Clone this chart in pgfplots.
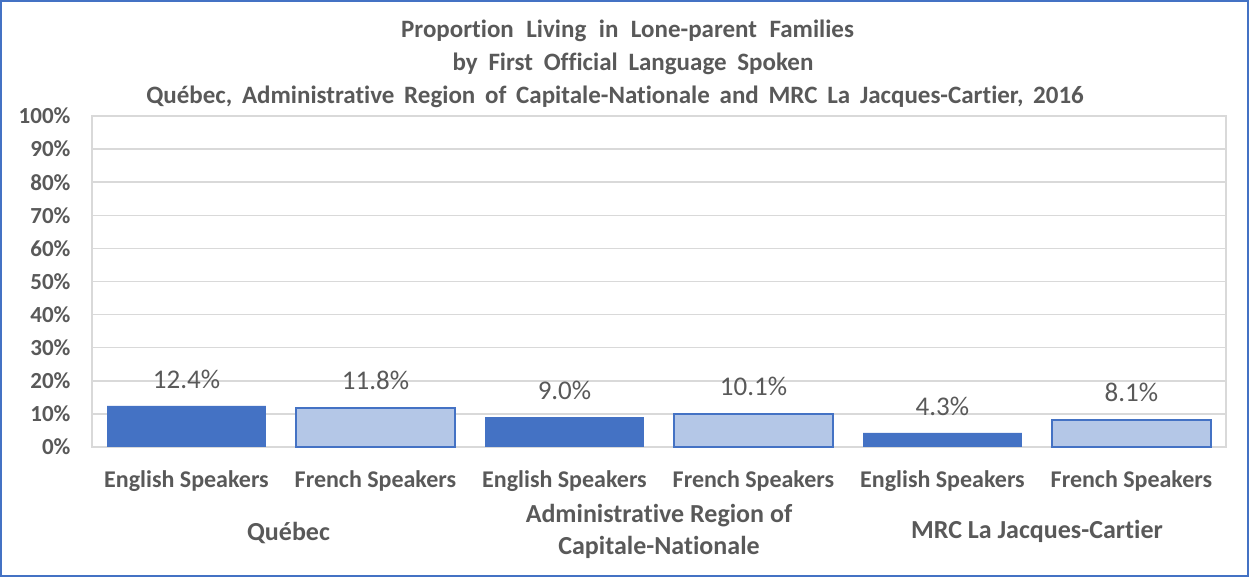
\documentclass[border=0pt]{standalone}
\usepackage{pgfplots}
\pgfplotsset{compat=1.18}
\usepackage{fontspec}
\setmainfont{Carlito}[Ligatures=NoCommon]
\definecolor{txt}{HTML}{595959}
\definecolor{dk}{HTML}{4472C4}
\definecolor{lt}{HTML}{B4C7E7}
\definecolor{gridc}{HTML}{D9D9D9}
\begin{document}
\begin{tikzpicture}[x=1pt,y=1pt]
\path[use as bounding box] (0,0) rectangle (1249,577);
\draw[dk, line width=2pt] (1,1) rectangle (1248,576);
\tikzset{ttl/.style={font=\fontsize{25}{33}\selectfont\bfseries, text=txt, inner sep=0pt}}
\node[ttl] at (627.5,546) {\spaceskip=0.5em\relax Proportion Living in Lone-parent Families};
\node[ttl] at (633,513) {\spaceskip=0.43em\relax by First Official Language Spoken};
\node[ttl] at (615,480) {\spaceskip=0.39em\relax Québec, Administrative Region of Capitale-Nationale and MRC La Jacques-Cartier, 2016};
\begin{axis}[
 at={(92pt,130pt)}, anchor=south west,
 scale only axis, width=1134pt, height=331pt,
 ymin=0, ymax=100, xmin=-0.5, xmax=5.5,
 ybar, bar width=0.84,
 ytick={0,10,...,100},
 yticklabel={\pgfmathprintnumber[fixed]{\tick}\%},
 /pgf/number format/assume math mode=true,
 xtick={0,...,5},
 xticklabels={English Speakers, French Speakers, English Speakers, French Speakers, English Speakers, French Speakers},
 tick label style={text=txt},
 yticklabel style={font=\fontsize{23}{23}\selectfont\bfseries, xshift=-18pt},
 xticklabel style={font=\fontsize{24}{24}\selectfont\bfseries, yshift=-20pt},
 major tick length=0pt,
 ymajorgrids, grid style={gridc, line width=1.5pt},
 axis line style={gridc, line width=1.5pt},
 clip=false,
 nodes near coords={\pgfmathprintnumber[fixed,fixed zerofill,precision=1]{\pgfplotspointmeta}\%},
 nodes near coords style={font=\fontsize{27}{27}\selectfont, text=txt, inner sep=0pt, yshift=17pt},
]
\addplot[bar shift=0pt, fill=dk, draw=none] coordinates {(0,12.4) (2,9.0) (4,4.3)};
\addplot[bar shift=0pt, fill=lt, draw=dk, line width=2pt] coordinates {(1,11.8) (3,10.1) (5,8.1)};
\node[font=\fontsize{26}{32}\selectfont\bfseries, text=txt, yshift=-86pt] at (axis cs:0.54,0) {Québec};
\node[font=\fontsize{26}{32}\selectfont\bfseries, text=txt, align=center, yshift=-84pt] at (axis cs:2.5,0) {Administrative Region of\\Capitale-Nationale};
\node[font=\fontsize{26}{32}\selectfont\bfseries, text=txt, yshift=-84pt] at (axis cs:4.5,0) {MRC La Jacques-Cartier};
\end{axis}
\end{tikzpicture}
\end{document}
